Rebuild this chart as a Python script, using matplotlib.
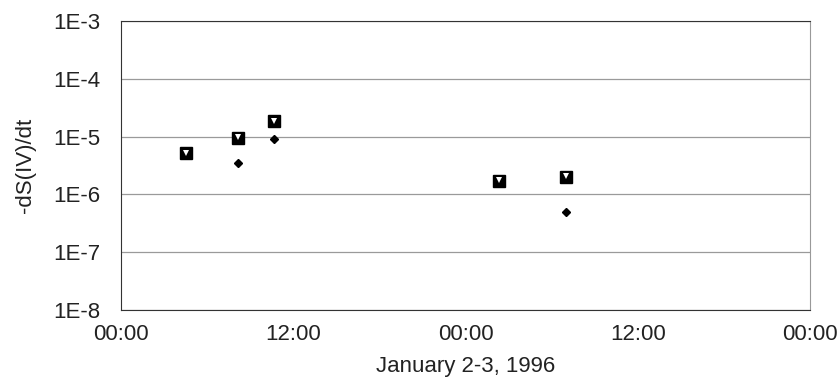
import datetime as dt
import numpy as np
import matplotlib
matplotlib.use("Agg")
import matplotlib.pyplot as plt
import matplotlib.dates as mdates

plt.rcParams['font.family'] = ['Liberation Sans', 'DejaVu Sans']

# sample times, Jan 2-3 1996
times = [dt.datetime(1996, 1, 2, 4, 30),
         dt.datetime(1996, 1, 2, 8, 10),
         dt.datetime(1996, 1, 2, 10, 40),
         dt.datetime(1996, 1, 3, 2, 20),
         dt.datetime(1996, 1, 3, 7, 0)]
rate_sq = [5.3e-6, 9.5e-6, 1.85e-5, 1.7e-6, 2.0e-6]
rate_tri = [5.3e-6, 9.7e-6, 1.9e-5, 1.8e-6, 2.1e-6]
rate_dia = [4.8e-6, 3.5e-6, 9.2e-6, 1.55e-6, 5.0e-7]

fig = plt.figure(figsize=(8.39, 3.85), dpi=100)
ax = fig.add_axes([0.1442, 0.1948, 0.8212, 0.7506])

ax.plot(times, rate_dia, linestyle='none', marker='D', markersize=4.5,
        color='black', zorder=3)
ax.plot(times, rate_sq, linestyle='none', marker='s', markersize=9,
        color='black', zorder=4)
ax.plot(times, rate_tri, linestyle='none', marker='v', markersize=5,
        color='white', markeredgewidth=0, zorder=5)

ax.set_yscale('log')
ax.set_ylim(1e-8, 1e-3)
ax.set_yticks([1e-8, 1e-7, 1e-6, 1e-5, 1e-4, 1e-3])
ax.set_yticklabels(['1E-8', '1E-7', '1E-6', '1E-5', '1E-4', '1E-3'])
ax.yaxis.set_minor_locator(matplotlib.ticker.NullLocator())
ax.grid(axis='y', color='#9a9a9a', linewidth=0.9)

ax.set_xlim(dt.datetime(1996, 1, 2), dt.datetime(1996, 1, 4))
ax.xaxis.set_major_locator(mdates.HourLocator(byhour=[0, 12]))
ax.xaxis.set_major_formatter(mdates.DateFormatter('%H:%M'))

ax.tick_params(axis='both', length=0, labelsize=16, colors='#222222')
ax.tick_params(axis='y', pad=15)
ax.tick_params(axis='x', pad=10)

for side in ['left', 'bottom', 'top']:
    ax.spines[side].set_color('#333333')
ax.spines['right'].set_color('#999999')

ax.set_xlabel('January 2-3, 1996', fontsize=16, color='#222222', labelpad=8)
ax.set_ylabel('-dS(IV)/dt', fontsize=16, color='#222222', labelpad=12)

fig.savefig('out.png', dpi=100)
